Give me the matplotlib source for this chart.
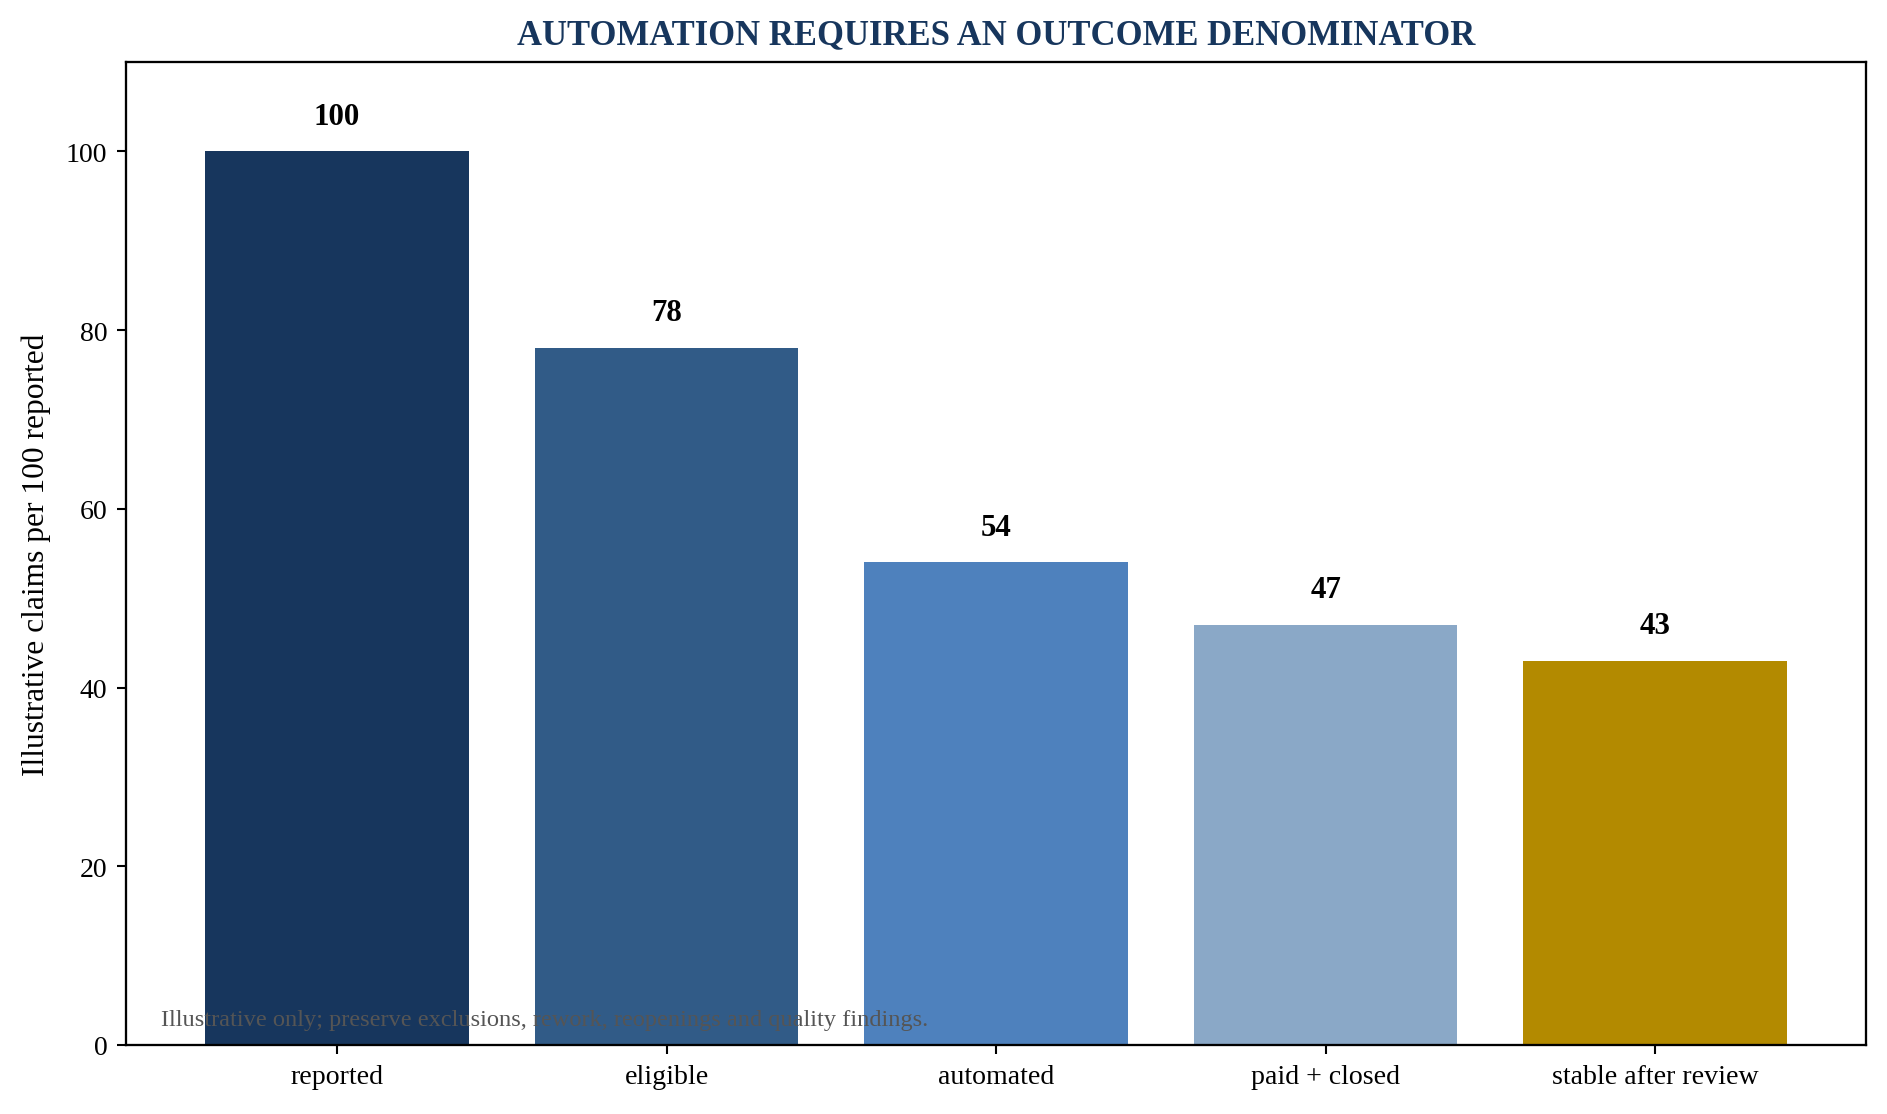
import numpy as np
import matplotlib.pyplot as plt

plt.rcParams['font.family'] = ['Liberation Serif', 'DejaVu Serif']

stages = ["reported", "eligible", "automated", "paid + closed", "stable after review"]
claims = [100, 78, 54, 47, 43]
colors = ["#17365d", "#315b87", "#4e81bd", "#8aa8c7", "#b38a00"]

fig = plt.figure(figsize=(12.58, 7.433), dpi=150)
ax = fig.add_axes([0.0668, 0.0619, 0.9221, 0.8816])

x = np.arange(len(stages))
ax.bar(x, claims, width=0.8, color=colors)
for xi, v in zip(x, claims):
    ax.text(xi, v + 2.3, str(v), ha="center", va="bottom", fontsize=14.8, fontweight="bold")

ax.set_xticks(x)
ax.set_xticklabels(stages, fontsize=13.4)
ax.tick_params(axis="both", labelsize=13.4, length=4.5, width=1.0, pad=4.5)
for s in ax.spines.values():
    s.set_linewidth(1.1)
ax.set_ylim(0, 110)
ax.set_ylabel("Illustrative claims per 100 reported", fontsize=15.1, labelpad=7)
ax.set_title("AUTOMATION REQUIRES AN OUTCOME DENOMINATOR", fontsize=16.6,
             fontweight="bold", color="#17365d", pad=8.8)
ax.text(0.02, 0.02, "Illustrative only; preserve exclusions, rework, reopenings and quality findings.",
        transform=ax.transAxes, fontsize=11.7, color="#555555")

fig.savefig("out.png", dpi=150)
